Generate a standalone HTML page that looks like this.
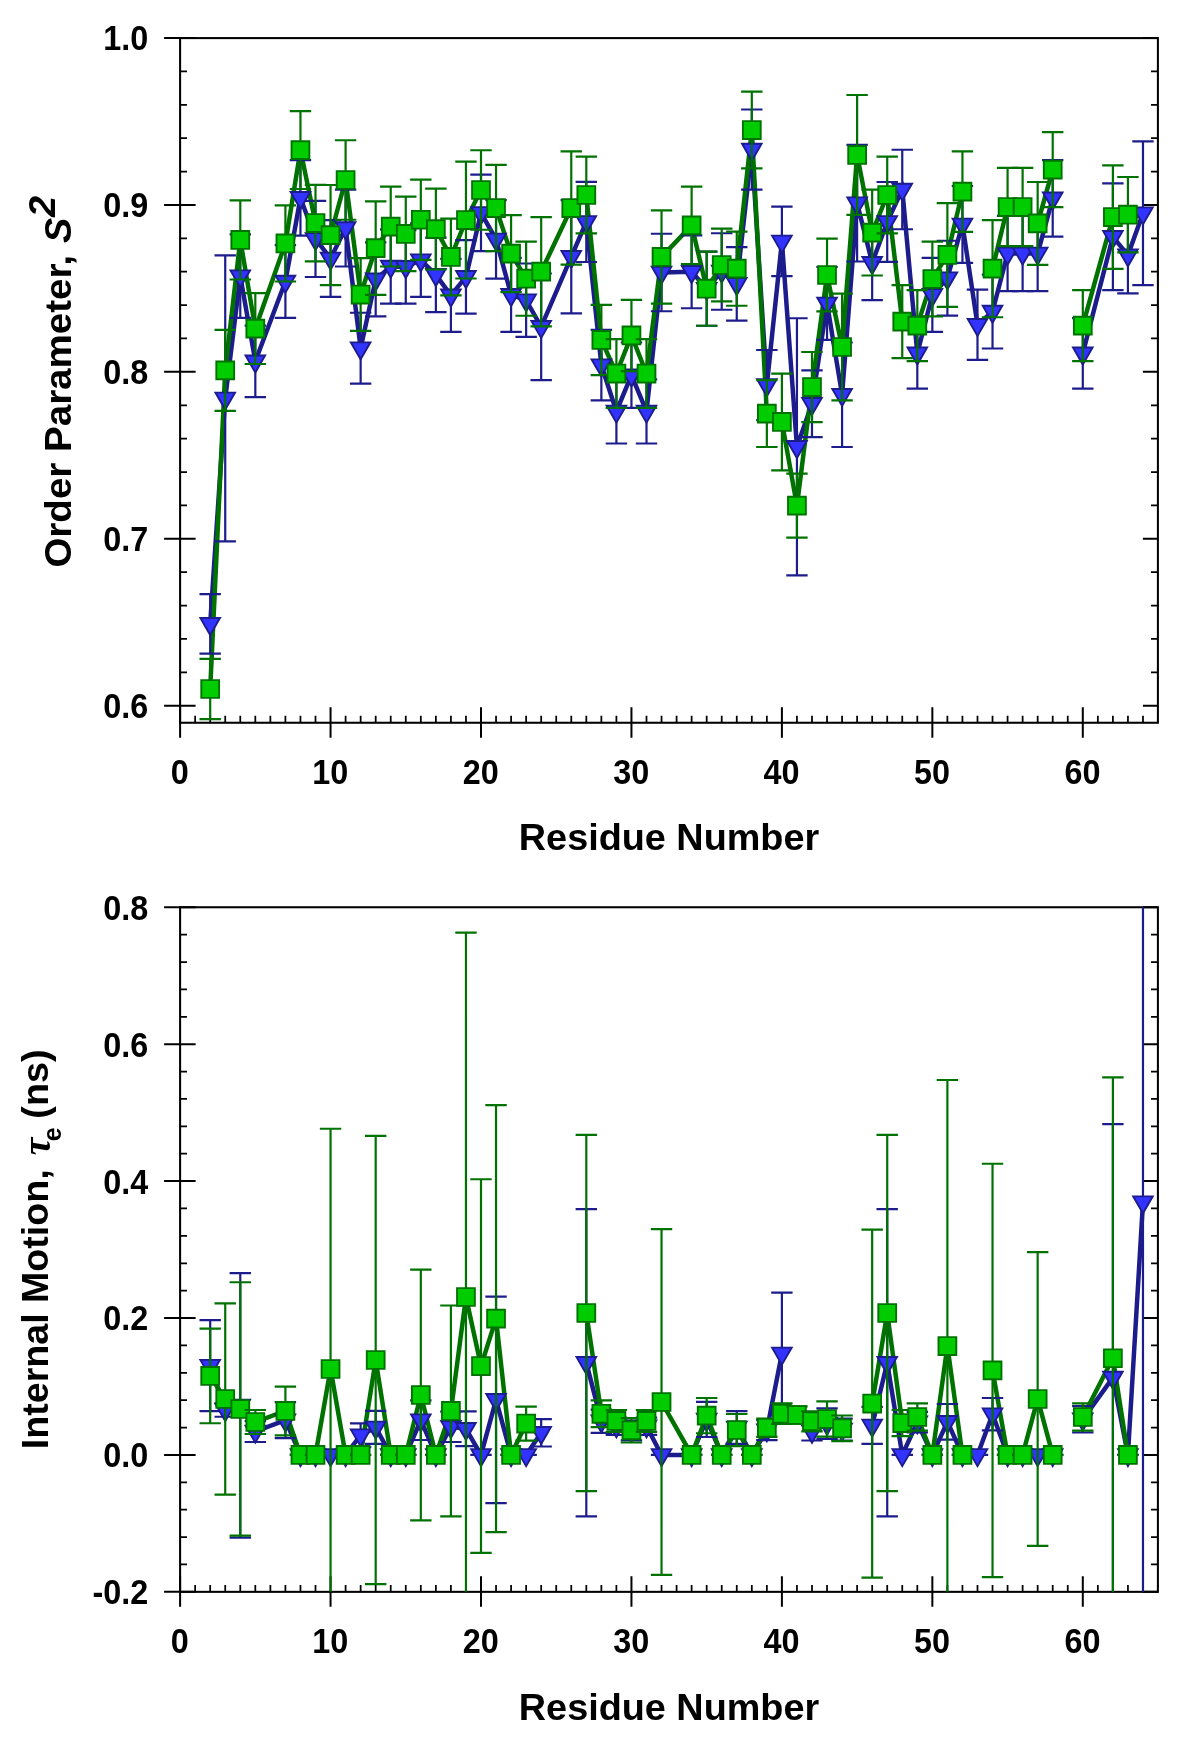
<!DOCTYPE html>
<html><head><meta charset="utf-8"><title>Order parameter and internal motion</title>
<style>
html,body{margin:0;padding:0;background:#fff;}
body{width:1200px;height:1760px;overflow:hidden;}
svg{display:block;will-change:transform;}
text{font-family:"Liberation Sans",sans-serif;font-weight:bold;fill:#000;}
.tk{font-size:34.6px;}
.ti{font-size:37.8px;}
.it{font-style:italic;}
.sf{font-family:"Liberation Serif",serif;}
</style></head><body>
<svg width="1200" height="1760" viewBox="0 0 1200 1760">
<defs>
<clipPath id="ct"><rect x="180.1" y="38.1" width="977.8" height="684.65"/></clipPath>
<clipPath id="cb"><rect x="180.1" y="907.25" width="977.8" height="684.6"/></clipPath>
</defs>
<rect width="1200" height="1760" fill="#fff"/>
<!-- top panel -->
<rect x="180.1" y="38.1" width="977.8" height="684.65" fill="none" stroke="#000" stroke-width="2.05"/>
<path d="M164.1 705.65H195.6M1142.9 705.65H1157.9M164.1 538.76H195.6M1142.9 538.76H1157.9M164.1 371.87H195.6M1142.9 371.87H1157.9M164.1 204.98H195.6M1142.9 204.98H1157.9M164.1 38.09H195.6M1142.9 38.09H1157.9M180.1 707.25V737.75M330.55 707.25V737.75M481 707.25V737.75M631.45 707.25V737.75M781.9 707.25V737.75M932.35 707.25V737.75M1082.8 707.25V737.75" stroke="#000" stroke-width="2" fill="none"/>
<path d="M180.1 672.27H187M1151 672.27H1157.9M180.1 638.89H187M1151 638.89H1157.9M180.1 605.52H187M1151 605.52H1157.9M180.1 572.14H187M1151 572.14H1157.9M180.1 505.38H187M1151 505.38H1157.9M180.1 472H187M1151 472H1157.9M180.1 438.63H187M1151 438.63H1157.9M180.1 405.25H187M1151 405.25H1157.9M180.1 338.49H187M1151 338.49H1157.9M180.1 305.11H187M1151 305.11H1157.9M180.1 271.74H187M1151 271.74H1157.9M180.1 238.36H187M1151 238.36H1157.9M180.1 171.6H187M1151 171.6H1157.9M180.1 138.22H187M1151 138.22H1157.9M180.1 104.85H187M1151 104.85H1157.9M180.1 71.47H187M1151 71.47H1157.9M195.14 715.85V722.75M210.19 715.85V722.75M225.23 715.85V722.75M240.28 715.85V722.75M255.32 715.85V722.75M270.37 715.85V722.75M285.41 715.85V722.75M300.46 715.85V722.75M315.5 715.85V722.75M345.6 715.85V722.75M360.64 715.85V722.75M375.69 715.85V722.75M390.73 715.85V722.75M405.77 715.85V722.75M420.82 715.85V722.75M435.87 715.85V722.75M450.91 715.85V722.75M465.96 715.85V722.75M496.04 715.85V722.75M511.09 715.85V722.75M526.13 715.85V722.75M541.18 715.85V722.75M556.23 715.85V722.75M571.27 715.85V722.75M586.31 715.85V722.75M601.36 715.85V722.75M616.4 715.85V722.75M646.5 715.85V722.75M661.54 715.85V722.75M676.59 715.85V722.75M691.63 715.85V722.75M706.68 715.85V722.75M721.72 715.85V722.75M736.76 715.85V722.75M751.81 715.85V722.75M766.86 715.85V722.75M796.95 715.85V722.75M811.99 715.85V722.75M827.03 715.85V722.75M842.08 715.85V722.75M857.12 715.85V722.75M872.17 715.85V722.75M887.22 715.85V722.75M902.26 715.85V722.75M917.31 715.85V722.75M947.39 715.85V722.75M962.44 715.85V722.75M977.49 715.85V722.75M992.53 715.85V722.75M1007.58 715.85V722.75M1022.62 715.85V722.75M1037.66 715.85V722.75M1052.71 715.85V722.75M1067.75 715.85V722.75M1097.85 715.85V722.75M1112.89 715.85V722.75M1127.93 715.85V722.75M1142.98 715.85V722.75" stroke="#000" stroke-width="1.75" fill="none"/>
<text transform="translate(148.3,718.05) scale(0.935,1)" text-anchor="end" class="tk">0.6</text>
<text transform="translate(148.3,551.16) scale(0.935,1)" text-anchor="end" class="tk">0.7</text>
<text transform="translate(148.3,384.27) scale(0.935,1)" text-anchor="end" class="tk">0.8</text>
<text transform="translate(148.3,217.38) scale(0.935,1)" text-anchor="end" class="tk">0.9</text>
<text transform="translate(148.3,50.49) scale(0.935,1)" text-anchor="end" class="tk">1.0</text>
<text transform="translate(179.8,784.35) scale(0.935,1)" text-anchor="middle" class="tk">0</text>
<text transform="translate(330.25,784.35) scale(0.935,1)" text-anchor="middle" class="tk">10</text>
<text transform="translate(480.7,784.35) scale(0.935,1)" text-anchor="middle" class="tk">20</text>
<text transform="translate(631.15,784.35) scale(0.935,1)" text-anchor="middle" class="tk">30</text>
<text transform="translate(781.6,784.35) scale(0.935,1)" text-anchor="middle" class="tk">40</text>
<text transform="translate(932.05,784.35) scale(0.935,1)" text-anchor="middle" class="tk">50</text>
<text transform="translate(1082.5,784.35) scale(0.935,1)" text-anchor="middle" class="tk">60</text>
<g clip-path="url(#ct)" stroke="#1c1c8c" fill="none" stroke-width="4.5" stroke-linejoin="miter" stroke-miterlimit="4">
<polyline points="210.19,623.87 225.23,398.42 240.28,276.18 255.32,361.35 285.41,281.52 300.46,197.85 315.5,238.94 330.55,258.47 345.6,228.08 360.64,348.15 375.69,279.35 390.73,266.49 405.77,266.82 420.82,260.14 435.87,274.84 450.91,295.38 465.96,276.84 481,212.88 496.04,239.44 511.09,294.88 526.13,300.22 541.18,326.78 571.27,256.8 586.31,221.9 601.36,365.19 616.4,411.45 631.45,375.21 646.5,411.45 661.54,272.5 691.63,271.83 706.68,288.7 721.72,271.5 736.76,283.86 751.81,149.59 766.86,385.06 781.9,241.44 796.95,446.85 811.99,403.76 827.03,303.4 842.08,394.75 857.12,203.2 872.17,262.82 887.22,221.9 902.26,189.5 917.31,353.33 932.35,294.88 947.39,278.18 962.44,224.41 977.49,324.77 992.53,311.58 1007.58,253.46 1022.62,253.46 1037.66,253.46 1052.71,198.35"/>
<polyline points="1082.8,353.33 1112.89,236.76 1127.93,255.13 1142.98,213.22"/>
</g>
<g clip-path="url(#ct)" stroke="#007200" fill="none" stroke-width="4.5" stroke-linejoin="miter" stroke-miterlimit="4">
<polyline points="210.19,689 225.23,370.36 240.28,239.94 255.32,328.61 285.41,243.44 300.46,150.09 315.5,223.07 330.55,235.09 345.6,179.98 360.64,294.55 375.69,248.12 390.73,226.58 405.77,233.93 420.82,219.73 435.87,229.08 450.91,256.97 465.96,220.06 481,190 496.04,208.04 511.09,253.63 526.13,278.68 541.18,271.67 571.27,208.04 586.31,195.01 601.36,339.97 616.4,373.54 631.45,335.46 646.5,373.54 661.54,256.97 691.63,225.41 706.68,288.7 721.72,264.99 736.76,268.66 751.81,130.05 766.86,413.62 781.9,421.97 796.95,505.63 811.99,387.06 827.03,275.01 842.08,346.98 857.12,154.93 872.17,232.59 887.22,195.01 902.26,321.6 917.31,325.61 932.35,279.01 947.39,254.97 962.44,191.67"/>
<polyline points="992.53,268.66 1007.58,207.04 1022.62,207.04 1037.66,223.4 1052.71,169.63"/>
<polyline points="1082.8,325.61 1112.89,217.06 1127.93,214.72"/>
</g>
<g clip-path="url(#ct)" stroke="#1c1c8c">
<path d="M210.19 594.14V653.6M199.49 594.14H220.89M199.49 653.6H220.89" fill="none" stroke-width="2.2"/>
<path d="M200.39 618.06h19.6L210.19 635.04z" fill="#3333ff" stroke-width="1.9"/>
<path d="M225.23 255.47V541.37M214.53 255.47H235.93M214.53 541.37H235.93" fill="none" stroke-width="2.2"/>
<path d="M215.43 392.61h19.6L225.23 409.59z" fill="#3333ff" stroke-width="1.9"/>
<path d="M240.28 234.43V317.93M229.58 234.43H250.98M229.58 317.93H250.98" fill="none" stroke-width="2.2"/>
<path d="M230.48 270.37h19.6L240.28 287.34z" fill="#3333ff" stroke-width="1.9"/>
<path d="M255.32 325.61V397.08M244.62 325.61H266.02M244.62 397.08H266.02" fill="none" stroke-width="2.2"/>
<path d="M245.52 355.54h19.6L255.32 372.51z" fill="#3333ff" stroke-width="1.9"/>
<path d="M285.41 245.11V317.93M274.71 245.11H296.11M274.71 317.93H296.11" fill="none" stroke-width="2.2"/>
<path d="M275.61 275.71h19.6L285.41 292.69z" fill="#3333ff" stroke-width="1.9"/>
<path d="M300.46 160.11V235.59M289.76 160.11H311.16M289.76 235.59H311.16" fill="none" stroke-width="2.2"/>
<path d="M290.66 192.05h19.6L300.46 209.02z" fill="#3333ff" stroke-width="1.9"/>
<path d="M315.5 200.86V277.01M304.81 200.86H326.2M304.81 277.01H326.2" fill="none" stroke-width="2.2"/>
<path d="M305.7 233.13h19.6L315.5 250.1z" fill="#3333ff" stroke-width="1.9"/>
<path d="M330.55 220.06V296.88M319.85 220.06H341.25M319.85 296.88H341.25" fill="none" stroke-width="2.2"/>
<path d="M320.75 252.67h19.6L330.55 269.64z" fill="#3333ff" stroke-width="1.9"/>
<path d="M345.6 189.67V266.49M334.9 189.67H356.3M334.9 266.49H356.3" fill="none" stroke-width="2.2"/>
<path d="M335.8 222.27h19.6L345.6 239.25z" fill="#3333ff" stroke-width="1.9"/>
<path d="M360.64 312.75V383.56M349.94 312.75H371.34M349.94 383.56H371.34" fill="none" stroke-width="2.2"/>
<path d="M350.84 342.35h19.6L360.64 359.32z" fill="#3333ff" stroke-width="1.9"/>
<path d="M375.69 242.28V316.42M364.99 242.28H386.38M364.99 316.42H386.38" fill="none" stroke-width="2.2"/>
<path d="M365.88 273.54h19.6L375.69 290.51z" fill="#3333ff" stroke-width="1.9"/>
<path d="M390.73 229.42V303.56M380.03 229.42H401.43M380.03 303.56H401.43" fill="none" stroke-width="2.2"/>
<path d="M380.93 260.68h19.6L390.73 277.66z" fill="#3333ff" stroke-width="1.9"/>
<path d="M405.77 230.08V303.56M395.07 230.08H416.47M395.07 303.56H416.47" fill="none" stroke-width="2.2"/>
<path d="M395.97 261.02h19.6L405.77 277.99z" fill="#3333ff" stroke-width="1.9"/>
<path d="M420.82 223.4V296.88M410.12 223.4H431.52M410.12 296.88H431.52" fill="none" stroke-width="2.2"/>
<path d="M411.02 254.34h19.6L420.82 271.31z" fill="#3333ff" stroke-width="1.9"/>
<path d="M435.87 237.6V312.08M425.17 237.6H446.56M425.17 312.08H446.56" fill="none" stroke-width="2.2"/>
<path d="M426.06 269.03h19.6L435.87 286.01z" fill="#3333ff" stroke-width="1.9"/>
<path d="M450.91 258.81V331.95M440.21 258.81H461.61M440.21 331.95H461.61" fill="none" stroke-width="2.2"/>
<path d="M441.11 289.57h19.6L450.91 306.55z" fill="#3333ff" stroke-width="1.9"/>
<path d="M465.96 240.1V313.58M455.26 240.1H476.66M455.26 313.58H476.66" fill="none" stroke-width="2.2"/>
<path d="M456.16 271.04h19.6L465.96 288.01z" fill="#3333ff" stroke-width="1.9"/>
<path d="M481 174.64V251.13M470.3 174.64H491.7M470.3 251.13H491.7" fill="none" stroke-width="2.2"/>
<path d="M471.2 207.08h19.6L481 224.05z" fill="#3333ff" stroke-width="1.9"/>
<path d="M496.04 200.19V278.68M485.34 200.19H506.74M485.34 278.68H506.74" fill="none" stroke-width="2.2"/>
<path d="M486.24 233.63h19.6L496.04 250.6z" fill="#3333ff" stroke-width="1.9"/>
<path d="M511.09 257.81V331.95M500.39 257.81H521.79M500.39 331.95H521.79" fill="none" stroke-width="2.2"/>
<path d="M501.29 289.07h19.6L511.09 306.05z" fill="#3333ff" stroke-width="1.9"/>
<path d="M526.13 263.48V336.96M515.43 263.48H536.84M515.43 336.96H536.84" fill="none" stroke-width="2.2"/>
<path d="M516.34 294.42h19.6L526.13 311.39z" fill="#3333ff" stroke-width="1.9"/>
<path d="M541.18 273.5V380.05M530.48 273.5H551.88M530.48 380.05H551.88" fill="none" stroke-width="2.2"/>
<path d="M531.38 320.97h19.6L541.18 337.94z" fill="#3333ff" stroke-width="1.9"/>
<path d="M571.27 200.19V313.42M560.57 200.19H581.97M560.57 313.42H581.97" fill="none" stroke-width="2.2"/>
<path d="M561.47 251h19.6L571.27 267.97z" fill="#3333ff" stroke-width="1.9"/>
<path d="M586.31 181.82V261.98M575.61 181.82H597.01M575.61 261.98H597.01" fill="none" stroke-width="2.2"/>
<path d="M576.51 216.09h19.6L586.31 233.07z" fill="#3333ff" stroke-width="1.9"/>
<path d="M601.36 329.95V400.42M590.66 329.95H612.06M590.66 400.42H612.06" fill="none" stroke-width="2.2"/>
<path d="M591.56 359.38h19.6L601.36 376.35z" fill="#3333ff" stroke-width="1.9"/>
<path d="M616.4 379.38V443.51M605.7 379.38H627.11M605.7 443.51H627.11" fill="none" stroke-width="2.2"/>
<path d="M606.61 405.64h19.6L616.4 422.61z" fill="#3333ff" stroke-width="1.9"/>
<path d="M631.45 342.48V407.94M620.75 342.48H642.15M620.75 407.94H642.15" fill="none" stroke-width="2.2"/>
<path d="M621.65 369.4h19.6L631.45 386.37z" fill="#3333ff" stroke-width="1.9"/>
<path d="M646.5 379.38V443.51M635.79 379.38H657.2M635.79 443.51H657.2" fill="none" stroke-width="2.2"/>
<path d="M636.7 405.64h19.6L646.5 422.61z" fill="#3333ff" stroke-width="1.9"/>
<path d="M661.54 233.76V311.25M650.84 233.76H672.24M650.84 311.25H672.24" fill="none" stroke-width="2.2"/>
<path d="M651.74 266.69h19.6L661.54 283.67z" fill="#3333ff" stroke-width="1.9"/>
<path d="M691.63 235.43V308.24M680.93 235.43H702.33M680.93 308.24H702.33" fill="none" stroke-width="2.2"/>
<path d="M681.83 266.03h19.6L691.63 283z" fill="#3333ff" stroke-width="1.9"/>
<path d="M706.68 251.63V325.77M695.98 251.63H717.38M695.98 325.77H717.38" fill="none" stroke-width="2.2"/>
<path d="M696.88 282.89h19.6L706.68 299.87z" fill="#3333ff" stroke-width="1.9"/>
<path d="M721.72 233.26V309.74M711.02 233.26H732.42M711.02 309.74H732.42" fill="none" stroke-width="2.2"/>
<path d="M711.92 265.69h19.6L721.72 282.67z" fill="#3333ff" stroke-width="1.9"/>
<path d="M736.76 247.12V320.6M726.06 247.12H747.47M726.06 320.6H747.47" fill="none" stroke-width="2.2"/>
<path d="M726.97 278.05h19.6L736.76 295.02z" fill="#3333ff" stroke-width="1.9"/>
<path d="M751.81 109.51V189.67M741.11 109.51H762.51M741.11 189.67H762.51" fill="none" stroke-width="2.2"/>
<path d="M742.01 143.78h19.6L751.81 160.76z" fill="#3333ff" stroke-width="1.9"/>
<path d="M766.86 349.99V420.13M756.15 349.99H777.56M756.15 420.13H777.56" fill="none" stroke-width="2.2"/>
<path d="M757.06 379.25h19.6L766.86 396.23z" fill="#3333ff" stroke-width="1.9"/>
<path d="M781.9 206.7V276.18M771.2 206.7H792.6M771.2 276.18H792.6" fill="none" stroke-width="2.2"/>
<path d="M772.1 235.63h19.6L781.9 252.61z" fill="#3333ff" stroke-width="1.9"/>
<path d="M796.95 318.26V575.44M786.25 318.26H807.65M786.25 575.44H807.65" fill="none" stroke-width="2.2"/>
<path d="M787.15 441.04h19.6L796.95 458.02z" fill="#3333ff" stroke-width="1.9"/>
<path d="M811.99 370.36V437.16M801.29 370.36H822.69M801.29 437.16H822.69" fill="none" stroke-width="2.2"/>
<path d="M802.19 397.96h19.6L811.99 414.93z" fill="#3333ff" stroke-width="1.9"/>
<path d="M827.03 266.99V339.8M816.33 266.99H837.74M816.33 339.8H837.74" fill="none" stroke-width="2.2"/>
<path d="M817.24 297.59h19.6L827.03 314.56z" fill="#3333ff" stroke-width="1.9"/>
<path d="M842.08 342.48V447.02M831.38 342.48H852.78M831.38 447.02H852.78" fill="none" stroke-width="2.2"/>
<path d="M832.28 388.94h19.6L842.08 405.91z" fill="#3333ff" stroke-width="1.9"/>
<path d="M857.12 144.91V261.48M846.42 144.91H867.83M846.42 261.48H867.83" fill="none" stroke-width="2.2"/>
<path d="M847.33 197.39h19.6L857.12 214.36z" fill="#3333ff" stroke-width="1.9"/>
<path d="M872.17 225.58V300.06M861.47 225.58H882.87M861.47 300.06H882.87" fill="none" stroke-width="2.2"/>
<path d="M862.37 257.01h19.6L872.17 273.98z" fill="#3333ff" stroke-width="1.9"/>
<path d="M887.22 181.99V261.81M876.51 181.99H897.92M876.51 261.81H897.92" fill="none" stroke-width="2.2"/>
<path d="M877.42 216.09h19.6L887.22 233.07z" fill="#3333ff" stroke-width="1.9"/>
<path d="M902.26 149.76V229.25M891.56 149.76H912.96M891.56 229.25H912.96" fill="none" stroke-width="2.2"/>
<path d="M892.46 183.7h19.6L902.26 200.67z" fill="#3333ff" stroke-width="1.9"/>
<path d="M917.31 318.09V388.57M906.61 318.09H928.01M906.61 388.57H928.01" fill="none" stroke-width="2.2"/>
<path d="M907.51 347.52h19.6L917.31 364.5z" fill="#3333ff" stroke-width="1.9"/>
<path d="M932.35 257.81V331.95M921.65 257.81H943.05M921.65 331.95H943.05" fill="none" stroke-width="2.2"/>
<path d="M922.55 289.07h19.6L932.35 306.05z" fill="#3333ff" stroke-width="1.9"/>
<path d="M947.39 240.77V315.59M936.69 240.77H958.1M936.69 315.59H958.1" fill="none" stroke-width="2.2"/>
<path d="M937.6 272.37h19.6L947.39 289.35z" fill="#3333ff" stroke-width="1.9"/>
<path d="M962.44 186V262.82M951.74 186H973.14M951.74 262.82H973.14" fill="none" stroke-width="2.2"/>
<path d="M952.64 218.6h19.6L962.44 235.57z" fill="#3333ff" stroke-width="1.9"/>
<path d="M977.49 289.7V359.84M966.78 289.7H988.19M966.78 359.84H988.19" fill="none" stroke-width="2.2"/>
<path d="M967.69 318.97h19.6L977.49 335.94z" fill="#3333ff" stroke-width="1.9"/>
<path d="M992.53 274.67V348.49M981.83 274.67H1003.23M981.83 348.49H1003.23" fill="none" stroke-width="2.2"/>
<path d="M982.73 305.77h19.6L992.53 322.75z" fill="#3333ff" stroke-width="1.9"/>
<path d="M1007.58 215.89V291.04M996.88 215.89H1018.28M996.88 291.04H1018.28" fill="none" stroke-width="2.2"/>
<path d="M997.78 247.66h19.6L1007.58 264.63z" fill="#3333ff" stroke-width="1.9"/>
<path d="M1022.62 215.89V291.04M1011.92 215.89H1033.32M1011.92 291.04H1033.32" fill="none" stroke-width="2.2"/>
<path d="M1012.82 247.66h19.6L1022.62 264.63z" fill="#3333ff" stroke-width="1.9"/>
<path d="M1037.66 215.89V291.04M1026.96 215.89H1048.37M1026.96 291.04H1048.37" fill="none" stroke-width="2.2"/>
<path d="M1027.87 247.66h19.6L1037.66 264.63z" fill="#3333ff" stroke-width="1.9"/>
<path d="M1052.71 160.11V236.6M1042.01 160.11H1063.41M1042.01 236.6H1063.41" fill="none" stroke-width="2.2"/>
<path d="M1042.91 192.55h19.6L1052.71 209.52z" fill="#3333ff" stroke-width="1.9"/>
<path d="M1082.8 318.09V388.57M1072.1 318.09H1093.5M1072.1 388.57H1093.5" fill="none" stroke-width="2.2"/>
<path d="M1073 347.52h19.6L1082.8 364.5z" fill="#3333ff" stroke-width="1.9"/>
<path d="M1112.89 183.32V290.2M1102.19 183.32H1123.59M1102.19 290.2H1123.59" fill="none" stroke-width="2.2"/>
<path d="M1103.09 230.96h19.6L1112.89 247.93z" fill="#3333ff" stroke-width="1.9"/>
<path d="M1127.93 216.89V293.38M1117.23 216.89H1138.63M1117.23 293.38H1138.63" fill="none" stroke-width="2.2"/>
<path d="M1118.13 249.33h19.6L1127.93 266.3z" fill="#3333ff" stroke-width="1.9"/>
<path d="M1142.98 141.41V285.03M1132.28 141.41H1153.68M1132.28 285.03H1153.68" fill="none" stroke-width="2.2"/>
<path d="M1133.18 207.41h19.6L1142.98 224.38z" fill="#3333ff" stroke-width="1.9"/>
</g>
<g clip-path="url(#ct)" stroke="#007200">
<path d="M210.19 658.94V719.06M199.49 658.94H220.89M199.49 719.06H220.89" fill="none" stroke-width="2.2"/>
<path d="M201.29 680.1h17.8v17.8h-17.8z" fill="#00cc00" stroke-width="1.9"/>
<path d="M225.23 329.95V410.78M214.53 329.95H235.93M214.53 410.78H235.93" fill="none" stroke-width="2.2"/>
<path d="M216.33 361.46h17.8v17.8h-17.8z" fill="#00cc00" stroke-width="1.9"/>
<path d="M240.28 200.36V279.52M229.58 200.36H250.98M229.58 279.52H250.98" fill="none" stroke-width="2.2"/>
<path d="M231.38 231.04h17.8v17.8h-17.8z" fill="#00cc00" stroke-width="1.9"/>
<path d="M255.32 293.21V364.02M244.62 293.21H266.02M244.62 364.02H266.02" fill="none" stroke-width="2.2"/>
<path d="M246.42 319.71h17.8v17.8h-17.8z" fill="#00cc00" stroke-width="1.9"/>
<path d="M285.41 205.37V281.52M274.71 205.37H296.11M274.71 281.52H296.11" fill="none" stroke-width="2.2"/>
<path d="M276.51 234.54h17.8v17.8h-17.8z" fill="#00cc00" stroke-width="1.9"/>
<path d="M300.46 111.18V189M289.76 111.18H311.16M289.76 189H311.16" fill="none" stroke-width="2.2"/>
<path d="M291.56 141.19h17.8v17.8h-17.8z" fill="#00cc00" stroke-width="1.9"/>
<path d="M315.5 184.83V261.31M304.81 184.83H326.2M304.81 261.31H326.2" fill="none" stroke-width="2.2"/>
<path d="M306.61 214.17h17.8v17.8h-17.8z" fill="#00cc00" stroke-width="1.9"/>
<path d="M330.55 184.99V285.19M319.85 184.99H341.25M319.85 285.19H341.25" fill="none" stroke-width="2.2"/>
<path d="M321.65 226.19h17.8v17.8h-17.8z" fill="#00cc00" stroke-width="1.9"/>
<path d="M345.6 140.24V219.73M334.9 140.24H356.3M334.9 219.73H356.3" fill="none" stroke-width="2.2"/>
<path d="M336.7 171.08h17.8v17.8h-17.8z" fill="#00cc00" stroke-width="1.9"/>
<path d="M360.64 258.14V330.95M349.94 258.14H371.34M349.94 330.95H371.34" fill="none" stroke-width="2.2"/>
<path d="M351.74 285.65h17.8v17.8h-17.8z" fill="#00cc00" stroke-width="1.9"/>
<path d="M375.69 201.36V294.88M364.99 201.36H386.38M364.99 294.88H386.38" fill="none" stroke-width="2.2"/>
<path d="M366.79 239.22h17.8v17.8h-17.8z" fill="#00cc00" stroke-width="1.9"/>
<path d="M390.73 186.66V266.49M380.03 186.66H401.43M380.03 266.49H401.43" fill="none" stroke-width="2.2"/>
<path d="M381.83 217.68h17.8v17.8h-17.8z" fill="#00cc00" stroke-width="1.9"/>
<path d="M405.77 196.68V271.17M395.07 196.68H416.47M395.07 271.17H416.47" fill="none" stroke-width="2.2"/>
<path d="M396.88 225.03h17.8v17.8h-17.8z" fill="#00cc00" stroke-width="1.9"/>
<path d="M420.82 179.65V259.81M410.12 179.65H431.52M410.12 259.81H431.52" fill="none" stroke-width="2.2"/>
<path d="M411.92 210.83h17.8v17.8h-17.8z" fill="#00cc00" stroke-width="1.9"/>
<path d="M435.87 188.67V269.5M425.17 188.67H446.56M425.17 269.5H446.56" fill="none" stroke-width="2.2"/>
<path d="M426.97 220.18h17.8v17.8h-17.8z" fill="#00cc00" stroke-width="1.9"/>
<path d="M450.91 218.56V295.38M440.21 218.56H461.61M440.21 295.38H461.61" fill="none" stroke-width="2.2"/>
<path d="M442.01 248.07h17.8v17.8h-17.8z" fill="#00cc00" stroke-width="1.9"/>
<path d="M465.96 161.61V278.51M455.26 161.61H476.66M455.26 278.51H476.66" fill="none" stroke-width="2.2"/>
<path d="M457.06 211.16h17.8v17.8h-17.8z" fill="#00cc00" stroke-width="1.9"/>
<path d="M481 150.26V229.75M470.3 150.26H491.7M470.3 229.75H491.7" fill="none" stroke-width="2.2"/>
<path d="M472.1 181.1h17.8v17.8h-17.8z" fill="#00cc00" stroke-width="1.9"/>
<path d="M496.04 164.95V251.13M485.34 164.95H506.74M485.34 251.13H506.74" fill="none" stroke-width="2.2"/>
<path d="M487.14 199.14h17.8v17.8h-17.8z" fill="#00cc00" stroke-width="1.9"/>
<path d="M511.09 215.05V292.21M500.39 215.05H521.79M500.39 292.21H521.79" fill="none" stroke-width="2.2"/>
<path d="M502.19 244.73h17.8v17.8h-17.8z" fill="#00cc00" stroke-width="1.9"/>
<path d="M526.13 241.61V315.75M515.43 241.61H536.84M515.43 315.75H536.84" fill="none" stroke-width="2.2"/>
<path d="M517.24 269.78h17.8v17.8h-17.8z" fill="#00cc00" stroke-width="1.9"/>
<path d="M541.18 217.06V326.28M530.48 217.06H551.88M530.48 326.28H551.88" fill="none" stroke-width="2.2"/>
<path d="M532.28 262.77h17.8v17.8h-17.8z" fill="#00cc00" stroke-width="1.9"/>
<path d="M571.27 151.43V264.65M560.57 151.43H581.97M560.57 264.65H581.97" fill="none" stroke-width="2.2"/>
<path d="M562.37 199.14h17.8v17.8h-17.8z" fill="#00cc00" stroke-width="1.9"/>
<path d="M586.31 156.6V233.42M575.61 156.6H597.01M575.61 233.42H597.01" fill="none" stroke-width="2.2"/>
<path d="M577.41 186.11h17.8v17.8h-17.8z" fill="#00cc00" stroke-width="1.9"/>
<path d="M601.36 304.9V375.04M590.66 304.9H612.06M590.66 375.04H612.06" fill="none" stroke-width="2.2"/>
<path d="M592.46 331.07h17.8v17.8h-17.8z" fill="#00cc00" stroke-width="1.9"/>
<path d="M616.4 339.13V407.94M605.7 339.13H627.11M605.7 407.94H627.11" fill="none" stroke-width="2.2"/>
<path d="M607.5 364.64h17.8v17.8h-17.8z" fill="#00cc00" stroke-width="1.9"/>
<path d="M631.45 299.89V371.03M620.75 299.89H642.15M620.75 371.03H642.15" fill="none" stroke-width="2.2"/>
<path d="M622.55 326.56h17.8v17.8h-17.8z" fill="#00cc00" stroke-width="1.9"/>
<path d="M646.5 339.13V407.94M635.79 339.13H657.2M635.79 407.94H657.2" fill="none" stroke-width="2.2"/>
<path d="M637.6 364.64h17.8v17.8h-17.8z" fill="#00cc00" stroke-width="1.9"/>
<path d="M661.54 210.38V303.56M650.84 210.38H672.24M650.84 303.56H672.24" fill="none" stroke-width="2.2"/>
<path d="M652.64 248.07h17.8v17.8h-17.8z" fill="#00cc00" stroke-width="1.9"/>
<path d="M691.63 186.66V264.15M680.93 186.66H702.33M680.93 264.15H702.33" fill="none" stroke-width="2.2"/>
<path d="M682.73 216.51h17.8v17.8h-17.8z" fill="#00cc00" stroke-width="1.9"/>
<path d="M706.68 251.63V325.77M695.98 251.63H717.38M695.98 325.77H717.38" fill="none" stroke-width="2.2"/>
<path d="M697.78 279.8h17.8v17.8h-17.8z" fill="#00cc00" stroke-width="1.9"/>
<path d="M721.72 228.58V301.39M711.02 228.58H732.42M711.02 301.39H732.42" fill="none" stroke-width="2.2"/>
<path d="M712.82 256.09h17.8v17.8h-17.8z" fill="#00cc00" stroke-width="1.9"/>
<path d="M736.76 231.59V305.73M726.06 231.59H747.47M726.06 305.73H747.47" fill="none" stroke-width="2.2"/>
<path d="M727.87 259.76h17.8v17.8h-17.8z" fill="#00cc00" stroke-width="1.9"/>
<path d="M751.81 91.64V168.46M741.11 91.64H762.51M741.11 168.46H762.51" fill="none" stroke-width="2.2"/>
<path d="M742.91 121.15h17.8v17.8h-17.8z" fill="#00cc00" stroke-width="1.9"/>
<path d="M766.86 380.22V447.02M756.15 380.22H777.56M756.15 447.02H777.56" fill="none" stroke-width="2.2"/>
<path d="M757.96 404.72h17.8v17.8h-17.8z" fill="#00cc00" stroke-width="1.9"/>
<path d="M781.9 373.54V470.4M771.2 373.54H792.6M771.2 470.4H792.6" fill="none" stroke-width="2.2"/>
<path d="M773 413.07h17.8v17.8h-17.8z" fill="#00cc00" stroke-width="1.9"/>
<path d="M796.95 473.57V537.7M786.25 473.57H807.65M786.25 537.7H807.65" fill="none" stroke-width="2.2"/>
<path d="M788.05 496.73h17.8v17.8h-17.8z" fill="#00cc00" stroke-width="1.9"/>
<path d="M811.99 351.99V422.13M801.29 351.99H822.69M801.29 422.13H822.69" fill="none" stroke-width="2.2"/>
<path d="M803.09 378.16h17.8v17.8h-17.8z" fill="#00cc00" stroke-width="1.9"/>
<path d="M827.03 238.6V311.41M816.33 238.6H837.74M816.33 311.41H837.74" fill="none" stroke-width="2.2"/>
<path d="M818.13 266.11h17.8v17.8h-17.8z" fill="#00cc00" stroke-width="1.9"/>
<path d="M842.08 293.54V400.42M831.38 293.54H852.78M831.38 400.42H852.78" fill="none" stroke-width="2.2"/>
<path d="M833.18 338.08h17.8v17.8h-17.8z" fill="#00cc00" stroke-width="1.9"/>
<path d="M857.12 94.98V214.89M846.42 94.98H867.83M846.42 214.89H867.83" fill="none" stroke-width="2.2"/>
<path d="M848.23 146.03h17.8v17.8h-17.8z" fill="#00cc00" stroke-width="1.9"/>
<path d="M872.17 189.67V275.51M861.47 189.67H882.87M861.47 275.51H882.87" fill="none" stroke-width="2.2"/>
<path d="M863.27 223.69h17.8v17.8h-17.8z" fill="#00cc00" stroke-width="1.9"/>
<path d="M887.22 156.6V233.42M876.51 156.6H897.92M876.51 233.42H897.92" fill="none" stroke-width="2.2"/>
<path d="M878.32 186.11h17.8v17.8h-17.8z" fill="#00cc00" stroke-width="1.9"/>
<path d="M902.26 285.03V358.17M891.56 285.03H912.96M891.56 358.17H912.96" fill="none" stroke-width="2.2"/>
<path d="M893.36 312.7h17.8v17.8h-17.8z" fill="#00cc00" stroke-width="1.9"/>
<path d="M917.31 290.04V361.18M906.61 290.04H928.01M906.61 361.18H928.01" fill="none" stroke-width="2.2"/>
<path d="M908.41 316.71h17.8v17.8h-17.8z" fill="#00cc00" stroke-width="1.9"/>
<path d="M932.35 241.61V316.42M921.65 241.61H943.05M921.65 316.42H943.05" fill="none" stroke-width="2.2"/>
<path d="M923.45 270.11h17.8v17.8h-17.8z" fill="#00cc00" stroke-width="1.9"/>
<path d="M947.39 203.03V306.9M936.69 203.03H958.1M936.69 306.9H958.1" fill="none" stroke-width="2.2"/>
<path d="M938.5 246.07h17.8v17.8h-17.8z" fill="#00cc00" stroke-width="1.9"/>
<path d="M962.44 151.43V231.92M951.74 151.43H973.14M951.74 231.92H973.14" fill="none" stroke-width="2.2"/>
<path d="M953.54 182.77h17.8v17.8h-17.8z" fill="#00cc00" stroke-width="1.9"/>
<path d="M992.53 220.06V317.26M981.83 220.06H1003.23M981.83 317.26H1003.23" fill="none" stroke-width="2.2"/>
<path d="M983.63 259.76h17.8v17.8h-17.8z" fill="#00cc00" stroke-width="1.9"/>
<path d="M1007.58 167.96V246.12M996.88 167.96H1018.28M996.88 246.12H1018.28" fill="none" stroke-width="2.2"/>
<path d="M998.68 198.14h17.8v17.8h-17.8z" fill="#00cc00" stroke-width="1.9"/>
<path d="M1022.62 167.96V246.12M1011.92 167.96H1033.32M1011.92 246.12H1033.32" fill="none" stroke-width="2.2"/>
<path d="M1013.72 198.14h17.8v17.8h-17.8z" fill="#00cc00" stroke-width="1.9"/>
<path d="M1037.66 181.99V264.82M1026.96 181.99H1048.37M1026.96 264.82H1048.37" fill="none" stroke-width="2.2"/>
<path d="M1028.76 214.5h17.8v17.8h-17.8z" fill="#00cc00" stroke-width="1.9"/>
<path d="M1052.71 132.05V207.2M1042.01 132.05H1063.41M1042.01 207.2H1063.41" fill="none" stroke-width="2.2"/>
<path d="M1043.81 160.73h17.8v17.8h-17.8z" fill="#00cc00" stroke-width="1.9"/>
<path d="M1082.8 290.04V361.18M1072.1 290.04H1093.5M1072.1 361.18H1093.5" fill="none" stroke-width="2.2"/>
<path d="M1073.9 316.71h17.8v17.8h-17.8z" fill="#00cc00" stroke-width="1.9"/>
<path d="M1112.89 165.29V268.83M1102.19 165.29H1123.59M1102.19 268.83H1123.59" fill="none" stroke-width="2.2"/>
<path d="M1103.99 208.16h17.8v17.8h-17.8z" fill="#00cc00" stroke-width="1.9"/>
<path d="M1127.93 176.98V252.46M1117.23 176.98H1138.63M1117.23 252.46H1138.63" fill="none" stroke-width="2.2"/>
<path d="M1119.03 205.82h17.8v17.8h-17.8z" fill="#00cc00" stroke-width="1.9"/>
</g>
<text x="669.0" y="850.3" text-anchor="middle" class="ti">Residue Number</text>
<g transform="translate(70.6,567.6) rotate(-90)"><text class="ti" transform="scale(1.0195,1)">Order Parameter,</text><text x="324.5" class="ti it">S</text><text x="350.5" y="-15.5" class="ti it">2</text></g>
<!-- bottom panel -->
<rect x="180.1" y="907.25" width="977.8" height="684.6" fill="none" stroke="#000" stroke-width="2.05"/>
<path d="M164.1 1591.87H195.6M1142.9 1591.87H1157.9M164.1 1454.95H195.6M1142.9 1454.95H1157.9M164.1 1318.03H195.6M1142.9 1318.03H1157.9M164.1 1181.11H195.6M1142.9 1181.11H1157.9M164.1 1044.19H195.6M1142.9 1044.19H1157.9M164.1 907.27H195.6M1142.9 907.27H1157.9M180.1 1576.35V1606.85M330.55 1576.35V1606.85M481 1576.35V1606.85M631.45 1576.35V1606.85M781.9 1576.35V1606.85M932.35 1576.35V1606.85M1082.8 1576.35V1606.85" stroke="#000" stroke-width="2" fill="none"/>
<path d="M180.1 1564.49H187M1151 1564.49H1157.9M180.1 1537.1H187M1151 1537.1H1157.9M180.1 1509.72H187M1151 1509.72H1157.9M180.1 1482.33H187M1151 1482.33H1157.9M180.1 1427.57H187M1151 1427.57H1157.9M180.1 1400.18H187M1151 1400.18H1157.9M180.1 1372.8H187M1151 1372.8H1157.9M180.1 1345.41H187M1151 1345.41H1157.9M180.1 1290.65H187M1151 1290.65H1157.9M180.1 1263.26H187M1151 1263.26H1157.9M180.1 1235.88H187M1151 1235.88H1157.9M180.1 1208.49H187M1151 1208.49H1157.9M180.1 1153.73H187M1151 1153.73H1157.9M180.1 1126.34H187M1151 1126.34H1157.9M180.1 1098.96H187M1151 1098.96H1157.9M180.1 1071.57H187M1151 1071.57H1157.9M180.1 1016.81H187M1151 1016.81H1157.9M180.1 989.42H187M1151 989.42H1157.9M180.1 962.04H187M1151 962.04H1157.9M180.1 934.65H187M1151 934.65H1157.9M195.14 1584.95V1591.85M210.19 1584.95V1591.85M225.23 1584.95V1591.85M240.28 1584.95V1591.85M255.32 1584.95V1591.85M270.37 1584.95V1591.85M285.41 1584.95V1591.85M300.46 1584.95V1591.85M315.5 1584.95V1591.85M345.6 1584.95V1591.85M360.64 1584.95V1591.85M375.69 1584.95V1591.85M390.73 1584.95V1591.85M405.77 1584.95V1591.85M420.82 1584.95V1591.85M435.87 1584.95V1591.85M450.91 1584.95V1591.85M465.96 1584.95V1591.85M496.04 1584.95V1591.85M511.09 1584.95V1591.85M526.13 1584.95V1591.85M541.18 1584.95V1591.85M556.23 1584.95V1591.85M571.27 1584.95V1591.85M586.31 1584.95V1591.85M601.36 1584.95V1591.85M616.4 1584.95V1591.85M646.5 1584.95V1591.85M661.54 1584.95V1591.85M676.59 1584.95V1591.85M691.63 1584.95V1591.85M706.68 1584.95V1591.85M721.72 1584.95V1591.85M736.76 1584.95V1591.85M751.81 1584.95V1591.85M766.86 1584.95V1591.85M796.95 1584.95V1591.85M811.99 1584.95V1591.85M827.03 1584.95V1591.85M842.08 1584.95V1591.85M857.12 1584.95V1591.85M872.17 1584.95V1591.85M887.22 1584.95V1591.85M902.26 1584.95V1591.85M917.31 1584.95V1591.85M947.39 1584.95V1591.85M962.44 1584.95V1591.85M977.49 1584.95V1591.85M992.53 1584.95V1591.85M1007.58 1584.95V1591.85M1022.62 1584.95V1591.85M1037.66 1584.95V1591.85M1052.71 1584.95V1591.85M1067.75 1584.95V1591.85M1097.85 1584.95V1591.85M1112.89 1584.95V1591.85M1127.93 1584.95V1591.85M1142.98 1584.95V1591.85" stroke="#000" stroke-width="1.75" fill="none"/>
<text transform="translate(148.3,1604.27) scale(0.935,1)" text-anchor="end" class="tk">-0.2</text>
<text transform="translate(148.3,1467.35) scale(0.935,1)" text-anchor="end" class="tk">0.0</text>
<text transform="translate(148.3,1330.43) scale(0.935,1)" text-anchor="end" class="tk">0.2</text>
<text transform="translate(148.3,1193.51) scale(0.935,1)" text-anchor="end" class="tk">0.4</text>
<text transform="translate(148.3,1056.59) scale(0.935,1)" text-anchor="end" class="tk">0.6</text>
<text transform="translate(148.3,919.67) scale(0.935,1)" text-anchor="end" class="tk">0.8</text>
<text transform="translate(179.8,1653.45) scale(0.935,1)" text-anchor="middle" class="tk">0</text>
<text transform="translate(330.25,1653.45) scale(0.935,1)" text-anchor="middle" class="tk">10</text>
<text transform="translate(480.7,1653.45) scale(0.935,1)" text-anchor="middle" class="tk">20</text>
<text transform="translate(631.15,1653.45) scale(0.935,1)" text-anchor="middle" class="tk">30</text>
<text transform="translate(781.6,1653.45) scale(0.935,1)" text-anchor="middle" class="tk">40</text>
<text transform="translate(932.05,1653.45) scale(0.935,1)" text-anchor="middle" class="tk">50</text>
<text transform="translate(1082.5,1653.45) scale(0.935,1)" text-anchor="middle" class="tk">60</text>
<g clip-path="url(#cb)" stroke="#1c1c8c" fill="none" stroke-width="4.5" stroke-linejoin="miter" stroke-miterlimit="4">
<polyline points="210.19,1365.69 225.23,1409.88 240.28,1405.42 255.32,1431.52 285.41,1420.15 300.46,1454.95 315.5,1454.95 330.55,1454.95 345.6,1454.95 360.64,1435.22 375.69,1427.41 390.73,1454.95 405.77,1454.95 420.82,1420.15 435.87,1454.95 450.91,1426.79 465.96,1428.78 481,1454.95 496.04,1399.81 511.09,1454.95 526.13,1454.95 541.18,1432.82"/>
<polyline points="586.31,1362.82 601.36,1421.18 616.4,1426.18 631.45,1430.43 646.5,1426.18 661.54,1454.95 691.63,1454.95 706.68,1419.47 721.72,1454.95 736.76,1427.48 751.81,1454.95 766.86,1430.15 781.9,1353.43"/>
<polyline points="811.99,1431.59 827.03,1423.58 842.08,1429.53"/>
<polyline points="872.17,1425.42 887.22,1362.82 902.26,1454.95 917.31,1422.21 932.35,1454.95 947.39,1421.79 962.44,1454.95 977.49,1454.95 992.53,1414.19 1007.58,1454.95 1022.62,1454.95 1037.66,1454.95 1052.71,1454.95"/>
<polyline points="1082.8,1419.33 1112.89,1377.61 1127.93,1454.95 1142.98,1202.18"/>
</g>
<g clip-path="url(#cb)" stroke="#007200" fill="none" stroke-width="4.5" stroke-linejoin="miter" stroke-miterlimit="4">
<polyline points="210.19,1375.97 225.23,1398.98 240.28,1408.98 255.32,1422 285.41,1410.97 300.46,1454.95 315.5,1454.95 330.55,1368.98 345.6,1454.95 360.64,1454.95 375.69,1360.01 390.73,1454.95 405.77,1454.95 420.82,1395.01 435.87,1454.95 450.91,1410.97 465.96,1296.99 481,1366.04 496.04,1318.63 511.09,1454.95 526.13,1423.58"/>
<polyline points="586.31,1313.02 601.36,1413.78 616.4,1420.97 631.45,1430.29 646.5,1420.97 661.54,1402 691.63,1454.95 706.68,1415.63 721.72,1454.95 736.76,1430.01 751.81,1454.95 766.86,1427.82 781.9,1413.71 796.95,1415.01 811.99,1421.31 827.03,1418.99 842.08,1428.3"/>
<polyline points="872.17,1403.57 887.22,1313.02 902.26,1423.03 917.31,1417 932.35,1454.95 947.39,1346.03 962.44,1454.95"/>
<polyline points="992.53,1370.42 1007.58,1454.95 1022.62,1454.95 1037.66,1398.98 1052.71,1454.95"/>
<polyline points="1082.8,1417 1112.89,1358.23 1127.93,1454.95"/>
</g>
<g clip-path="url(#cb)" stroke="#1c1c8c">
<path d="M210.19 1320.21V1411.18M199.49 1320.21H220.89M199.49 1411.18H220.89" fill="none" stroke-width="2.2"/>
<path d="M200.39 1359.88h19.6L210.19 1376.86z" fill="#3333ff" stroke-width="1.9"/>
<path d="M225.23 1403.03V1416.73M214.53 1403.03H235.93M214.53 1416.73H235.93" fill="none" stroke-width="2.2"/>
<path d="M215.43 1404.07h19.6L225.23 1421.04z" fill="#3333ff" stroke-width="1.9"/>
<path d="M240.28 1273.22V1537.63M229.58 1273.22H250.98M229.58 1537.63H250.98" fill="none" stroke-width="2.2"/>
<path d="M230.48 1399.61h19.6L240.28 1416.59z" fill="#3333ff" stroke-width="1.9"/>
<path d="M255.32 1421.04V1442M244.62 1421.04H266.02M244.62 1442H266.02" fill="none" stroke-width="2.2"/>
<path d="M245.52 1425.71h19.6L255.32 1442.69z" fill="#3333ff" stroke-width="1.9"/>
<path d="M285.41 1402.13V1438.17M274.71 1402.13H296.11M274.71 1438.17H296.11" fill="none" stroke-width="2.2"/>
<path d="M275.61 1414.34h19.6L285.41 1431.32z" fill="#3333ff" stroke-width="1.9"/>
<path d="M300.46 1454.95V1454.95M289.76 1454.95H311.16M289.76 1454.95H311.16" fill="none" stroke-width="2.2"/>
<path d="M290.66 1449.14h19.6L300.46 1466.11z" fill="#3333ff" stroke-width="1.9"/>
<path d="M315.5 1454.95V1454.95M304.81 1454.95H326.2M304.81 1454.95H326.2" fill="none" stroke-width="2.2"/>
<path d="M305.7 1449.14h19.6L315.5 1466.11z" fill="#3333ff" stroke-width="1.9"/>
<path d="M330.55 1454.95V1454.95M319.85 1454.95H341.25M319.85 1454.95H341.25" fill="none" stroke-width="2.2"/>
<path d="M320.75 1449.14h19.6L330.55 1466.11z" fill="#3333ff" stroke-width="1.9"/>
<path d="M345.6 1454.95V1454.95M334.9 1454.95H356.3M334.9 1454.95H356.3" fill="none" stroke-width="2.2"/>
<path d="M335.8 1449.14h19.6L345.6 1466.11z" fill="#3333ff" stroke-width="1.9"/>
<path d="M360.64 1423.37V1447.07M349.94 1423.37H371.34M349.94 1447.07H371.34" fill="none" stroke-width="2.2"/>
<path d="M350.84 1429.41h19.6L360.64 1446.39z" fill="#3333ff" stroke-width="1.9"/>
<path d="M375.69 1410.97V1443.85M364.99 1410.97H386.38M364.99 1443.85H386.38" fill="none" stroke-width="2.2"/>
<path d="M365.88 1421.6h19.6L375.69 1438.58z" fill="#3333ff" stroke-width="1.9"/>
<path d="M390.73 1454.95V1454.95M380.03 1454.95H401.43M380.03 1454.95H401.43" fill="none" stroke-width="2.2"/>
<path d="M380.93 1449.14h19.6L390.73 1466.11z" fill="#3333ff" stroke-width="1.9"/>
<path d="M405.77 1454.95V1454.95M395.07 1454.95H416.47M395.07 1454.95H416.47" fill="none" stroke-width="2.2"/>
<path d="M395.97 1449.14h19.6L405.77 1466.11z" fill="#3333ff" stroke-width="1.9"/>
<path d="M420.82 1400.29V1440.02M410.12 1400.29H431.52M410.12 1440.02H431.52" fill="none" stroke-width="2.2"/>
<path d="M411.02 1414.34h19.6L420.82 1431.32z" fill="#3333ff" stroke-width="1.9"/>
<path d="M435.87 1454.95V1454.95M425.17 1454.95H446.56M425.17 1454.95H446.56" fill="none" stroke-width="2.2"/>
<path d="M426.06 1449.14h19.6L435.87 1466.11z" fill="#3333ff" stroke-width="1.9"/>
<path d="M450.91 1411.59V1442M440.21 1411.59H461.61M440.21 1442H461.61" fill="none" stroke-width="2.2"/>
<path d="M441.11 1420.99h19.6L450.91 1437.96z" fill="#3333ff" stroke-width="1.9"/>
<path d="M465.96 1411.38V1446.18M455.26 1411.38H476.66M455.26 1446.18H476.66" fill="none" stroke-width="2.2"/>
<path d="M456.16 1422.97h19.6L465.96 1439.95z" fill="#3333ff" stroke-width="1.9"/>
<path d="M481 1454.95V1454.95M470.3 1454.95H491.7M470.3 1454.95H491.7" fill="none" stroke-width="2.2"/>
<path d="M471.2 1449.14h19.6L481 1466.11z" fill="#3333ff" stroke-width="1.9"/>
<path d="M496.04 1296.58V1503.04M485.34 1296.58H506.74M485.34 1503.04H506.74" fill="none" stroke-width="2.2"/>
<path d="M486.24 1394h19.6L496.04 1410.97z" fill="#3333ff" stroke-width="1.9"/>
<path d="M511.09 1454.95V1454.95M500.39 1454.95H521.79M500.39 1454.95H521.79" fill="none" stroke-width="2.2"/>
<path d="M501.29 1449.14h19.6L511.09 1466.11z" fill="#3333ff" stroke-width="1.9"/>
<path d="M526.13 1454.95V1454.95M515.43 1454.95H536.84M515.43 1454.95H536.84" fill="none" stroke-width="2.2"/>
<path d="M516.34 1449.14h19.6L526.13 1466.11z" fill="#3333ff" stroke-width="1.9"/>
<path d="M541.18 1419.12V1446.52M530.48 1419.12H551.88M530.48 1446.52H551.88" fill="none" stroke-width="2.2"/>
<path d="M531.38 1427.01h19.6L541.18 1443.99z" fill="#3333ff" stroke-width="1.9"/>
<path d="M586.31 1209.17V1516.46M575.61 1209.17H597.01M575.61 1516.46H597.01" fill="none" stroke-width="2.2"/>
<path d="M576.51 1357.01h19.6L586.31 1373.98z" fill="#3333ff" stroke-width="1.9"/>
<path d="M601.36 1409.53V1432.82M590.66 1409.53H612.06M590.66 1432.82H612.06" fill="none" stroke-width="2.2"/>
<path d="M591.56 1415.37h19.6L601.36 1432.34z" fill="#3333ff" stroke-width="1.9"/>
<path d="M616.4 1417.55V1434.81M605.7 1417.55H627.11M605.7 1434.81H627.11" fill="none" stroke-width="2.2"/>
<path d="M606.61 1420.37h19.6L616.4 1437.34z" fill="#3333ff" stroke-width="1.9"/>
<path d="M631.45 1420.49V1440.36M620.75 1420.49H642.15M620.75 1440.36H642.15" fill="none" stroke-width="2.2"/>
<path d="M621.65 1424.62h19.6L631.45 1441.59z" fill="#3333ff" stroke-width="1.9"/>
<path d="M646.5 1417.55V1434.81M635.79 1417.55H657.2M635.79 1434.81H657.2" fill="none" stroke-width="2.2"/>
<path d="M636.7 1420.37h19.6L646.5 1437.34z" fill="#3333ff" stroke-width="1.9"/>
<path d="M661.54 1454.95V1454.95M650.84 1454.95H672.24M650.84 1454.95H672.24" fill="none" stroke-width="2.2"/>
<path d="M651.74 1449.14h19.6L661.54 1466.11z" fill="#3333ff" stroke-width="1.9"/>
<path d="M691.63 1454.95V1454.95M680.93 1454.95H702.33M680.93 1454.95H702.33" fill="none" stroke-width="2.2"/>
<path d="M681.83 1449.14h19.6L691.63 1466.11z" fill="#3333ff" stroke-width="1.9"/>
<path d="M706.68 1401.93V1437M695.98 1401.93H717.38M695.98 1437H717.38" fill="none" stroke-width="2.2"/>
<path d="M696.88 1413.66h19.6L706.68 1430.63z" fill="#3333ff" stroke-width="1.9"/>
<path d="M721.72 1454.95V1454.95M711.02 1454.95H732.42M711.02 1454.95H732.42" fill="none" stroke-width="2.2"/>
<path d="M711.92 1449.14h19.6L721.72 1466.11z" fill="#3333ff" stroke-width="1.9"/>
<path d="M736.76 1411.04V1443.92M726.06 1411.04H747.47M726.06 1443.92H747.47" fill="none" stroke-width="2.2"/>
<path d="M726.97 1421.67h19.6L736.76 1438.65z" fill="#3333ff" stroke-width="1.9"/>
<path d="M751.81 1454.95V1454.95M741.11 1454.95H762.51M741.11 1454.95H762.51" fill="none" stroke-width="2.2"/>
<path d="M742.01 1449.14h19.6L751.81 1466.11z" fill="#3333ff" stroke-width="1.9"/>
<path d="M766.86 1420.22V1440.08M756.15 1420.22H777.56M756.15 1440.08H777.56" fill="none" stroke-width="2.2"/>
<path d="M757.06 1424.34h19.6L766.86 1441.32z" fill="#3333ff" stroke-width="1.9"/>
<path d="M781.9 1292.6V1414.26M771.2 1292.6H792.6M771.2 1414.26H792.6" fill="none" stroke-width="2.2"/>
<path d="M772.1 1347.62h19.6L781.9 1364.6z" fill="#3333ff" stroke-width="1.9"/>
<path d="M811.99 1422.68V1440.49M801.29 1422.68H822.69M801.29 1440.49H822.69" fill="none" stroke-width="2.2"/>
<path d="M802.19 1425.78h19.6L811.99 1442.76z" fill="#3333ff" stroke-width="1.9"/>
<path d="M827.03 1408.3V1438.85M816.33 1408.3H837.74M816.33 1438.85H837.74" fill="none" stroke-width="2.2"/>
<path d="M817.24 1417.77h19.6L827.03 1434.74z" fill="#3333ff" stroke-width="1.9"/>
<path d="M842.08 1418.57V1440.49M831.38 1418.57H852.78M831.38 1440.49H852.78" fill="none" stroke-width="2.2"/>
<path d="M832.28 1423.73h19.6L842.08 1440.7z" fill="#3333ff" stroke-width="1.9"/>
<path d="M872.17 1406.93V1443.92M861.47 1406.93H882.87M861.47 1443.92H882.87" fill="none" stroke-width="2.2"/>
<path d="M862.37 1419.62h19.6L872.17 1436.59z" fill="#3333ff" stroke-width="1.9"/>
<path d="M887.22 1209.17V1516.46M876.51 1209.17H897.92M876.51 1516.46H897.92" fill="none" stroke-width="2.2"/>
<path d="M877.42 1357.01h19.6L887.22 1373.98z" fill="#3333ff" stroke-width="1.9"/>
<path d="M902.26 1454.95V1454.95M891.56 1454.95H912.96M891.56 1454.95H912.96" fill="none" stroke-width="2.2"/>
<path d="M892.46 1449.14h19.6L902.26 1466.11z" fill="#3333ff" stroke-width="1.9"/>
<path d="M917.31 1411.93V1432.48M906.61 1411.93H928.01M906.61 1432.48H928.01" fill="none" stroke-width="2.2"/>
<path d="M907.51 1416.4h19.6L917.31 1433.37z" fill="#3333ff" stroke-width="1.9"/>
<path d="M932.35 1454.95V1454.95M921.65 1454.95H943.05M921.65 1454.95H943.05" fill="none" stroke-width="2.2"/>
<path d="M922.55 1449.14h19.6L932.35 1466.11z" fill="#3333ff" stroke-width="1.9"/>
<path d="M947.39 1403.98V1439.6M936.69 1403.98H958.1M936.69 1439.6H958.1" fill="none" stroke-width="2.2"/>
<path d="M937.6 1415.99h19.6L947.39 1432.96z" fill="#3333ff" stroke-width="1.9"/>
<path d="M962.44 1454.95V1454.95M951.74 1454.95H973.14M951.74 1454.95H973.14" fill="none" stroke-width="2.2"/>
<path d="M952.64 1449.14h19.6L962.44 1466.11z" fill="#3333ff" stroke-width="1.9"/>
<path d="M977.49 1454.95V1454.95M966.78 1454.95H988.19M966.78 1454.95H988.19" fill="none" stroke-width="2.2"/>
<path d="M967.69 1449.14h19.6L977.49 1466.11z" fill="#3333ff" stroke-width="1.9"/>
<path d="M992.53 1398.02V1430.36M981.83 1398.02H1003.23M981.83 1430.36H1003.23" fill="none" stroke-width="2.2"/>
<path d="M982.73 1408.38h19.6L992.53 1425.36z" fill="#3333ff" stroke-width="1.9"/>
<path d="M1007.58 1454.95V1454.95M996.88 1454.95H1018.28M996.88 1454.95H1018.28" fill="none" stroke-width="2.2"/>
<path d="M997.78 1449.14h19.6L1007.58 1466.11z" fill="#3333ff" stroke-width="1.9"/>
<path d="M1022.62 1454.95V1454.95M1011.92 1454.95H1033.32M1011.92 1454.95H1033.32" fill="none" stroke-width="2.2"/>
<path d="M1012.82 1449.14h19.6L1022.62 1466.11z" fill="#3333ff" stroke-width="1.9"/>
<path d="M1037.66 1454.95V1454.95M1026.96 1454.95H1048.37M1026.96 1454.95H1048.37" fill="none" stroke-width="2.2"/>
<path d="M1027.87 1449.14h19.6L1037.66 1466.11z" fill="#3333ff" stroke-width="1.9"/>
<path d="M1052.71 1454.95V1454.95M1042.01 1454.95H1063.41M1042.01 1454.95H1063.41" fill="none" stroke-width="2.2"/>
<path d="M1042.91 1449.14h19.6L1052.71 1466.11z" fill="#3333ff" stroke-width="1.9"/>
<path d="M1082.8 1406.18V1432.48M1072.1 1406.18H1093.5M1072.1 1432.48H1093.5" fill="none" stroke-width="2.2"/>
<path d="M1073 1413.52h19.6L1082.8 1430.49z" fill="#3333ff" stroke-width="1.9"/>
<path d="M1112.89 1124.16V1631.06M1102.19 1124.16H1123.59M1102.19 1631.06H1123.59" fill="none" stroke-width="2.2"/>
<path d="M1103.09 1371.8h19.6L1112.89 1388.78z" fill="#3333ff" stroke-width="1.9"/>
<path d="M1127.93 1454.95V1454.95M1117.23 1454.95H1138.63M1117.23 1454.95H1138.63" fill="none" stroke-width="2.2"/>
<path d="M1118.13 1449.14h19.6L1127.93 1466.11z" fill="#3333ff" stroke-width="1.9"/>
<path d="M1142.98 517.18V1887.18M1132.28 517.18H1153.68M1132.28 1887.18H1153.68" fill="none" stroke-width="2.2"/>
<path d="M1133.18 1196.38h19.6L1142.98 1213.35z" fill="#3333ff" stroke-width="1.9"/>
</g>
<g clip-path="url(#cb)" stroke="#007200">
<path d="M210.19 1328.7V1423.23M199.49 1328.7H220.89M199.49 1423.23H220.89" fill="none" stroke-width="2.2"/>
<path d="M201.29 1367.07h17.8v17.8h-17.8z" fill="#00cc00" stroke-width="1.9"/>
<path d="M225.23 1303.29V1494.68M214.53 1303.29H235.93M214.53 1494.68H235.93" fill="none" stroke-width="2.2"/>
<path d="M216.33 1390.08h17.8v17.8h-17.8z" fill="#00cc00" stroke-width="1.9"/>
<path d="M240.28 1282.26V1535.71M229.58 1282.26H250.98M229.58 1535.71H250.98" fill="none" stroke-width="2.2"/>
<path d="M231.38 1400.08h17.8v17.8h-17.8z" fill="#00cc00" stroke-width="1.9"/>
<path d="M255.32 1410.01V1433.99M244.62 1410.01H266.02M244.62 1433.99H266.02" fill="none" stroke-width="2.2"/>
<path d="M246.42 1413.1h17.8v17.8h-17.8z" fill="#00cc00" stroke-width="1.9"/>
<path d="M285.41 1386.59V1435.36M274.71 1386.59H296.11M274.71 1435.36H296.11" fill="none" stroke-width="2.2"/>
<path d="M276.51 1402.07h17.8v17.8h-17.8z" fill="#00cc00" stroke-width="1.9"/>
<path d="M300.46 1454.95V1454.95M289.76 1454.95H311.16M289.76 1454.95H311.16" fill="none" stroke-width="2.2"/>
<path d="M291.56 1446.05h17.8v17.8h-17.8z" fill="#00cc00" stroke-width="1.9"/>
<path d="M315.5 1454.95V1454.95M304.81 1454.95H326.2M304.81 1454.95H326.2" fill="none" stroke-width="2.2"/>
<path d="M306.61 1446.05h17.8v17.8h-17.8z" fill="#00cc00" stroke-width="1.9"/>
<path d="M330.55 1128.75V1609.21M319.85 1128.75H341.25M319.85 1609.21H341.25" fill="none" stroke-width="2.2"/>
<path d="M321.65 1360.08h17.8v17.8h-17.8z" fill="#00cc00" stroke-width="1.9"/>
<path d="M345.6 1454.95V1454.95M334.9 1454.95H356.3M334.9 1454.95H356.3" fill="none" stroke-width="2.2"/>
<path d="M336.7 1446.05h17.8v17.8h-17.8z" fill="#00cc00" stroke-width="1.9"/>
<path d="M360.64 1454.95V1454.95M349.94 1454.95H371.34M349.94 1454.95H371.34" fill="none" stroke-width="2.2"/>
<path d="M351.74 1446.05h17.8v17.8h-17.8z" fill="#00cc00" stroke-width="1.9"/>
<path d="M375.69 1135.81V1584.21M364.99 1135.81H386.38M364.99 1584.21H386.38" fill="none" stroke-width="2.2"/>
<path d="M366.79 1351.11h17.8v17.8h-17.8z" fill="#00cc00" stroke-width="1.9"/>
<path d="M390.73 1454.95V1454.95M380.03 1454.95H401.43M380.03 1454.95H401.43" fill="none" stroke-width="2.2"/>
<path d="M381.83 1446.05h17.8v17.8h-17.8z" fill="#00cc00" stroke-width="1.9"/>
<path d="M405.77 1454.95V1454.95M395.07 1454.95H416.47M395.07 1454.95H416.47" fill="none" stroke-width="2.2"/>
<path d="M396.88 1446.05h17.8v17.8h-17.8z" fill="#00cc00" stroke-width="1.9"/>
<path d="M420.82 1269.66V1520.37M410.12 1269.66H431.52M410.12 1520.37H431.52" fill="none" stroke-width="2.2"/>
<path d="M411.92 1386.11h17.8v17.8h-17.8z" fill="#00cc00" stroke-width="1.9"/>
<path d="M435.87 1454.95V1454.95M425.17 1454.95H446.56M425.17 1454.95H446.56" fill="none" stroke-width="2.2"/>
<path d="M426.97 1446.05h17.8v17.8h-17.8z" fill="#00cc00" stroke-width="1.9"/>
<path d="M450.91 1305.48V1516.46M440.21 1305.48H461.61M440.21 1516.46H461.61" fill="none" stroke-width="2.2"/>
<path d="M442.01 1402.07h17.8v17.8h-17.8z" fill="#00cc00" stroke-width="1.9"/>
<path d="M465.96 932.57V1661.41M455.26 932.57H476.66M455.26 1661.41H476.66" fill="none" stroke-width="2.2"/>
<path d="M457.06 1288.09h17.8v17.8h-17.8z" fill="#00cc00" stroke-width="1.9"/>
<path d="M481 1179.24V1552.83M470.3 1179.24H491.7M470.3 1552.83H491.7" fill="none" stroke-width="2.2"/>
<path d="M472.1 1357.13h17.8v17.8h-17.8z" fill="#00cc00" stroke-width="1.9"/>
<path d="M496.04 1105.05V1532.22M485.34 1105.05H506.74M485.34 1532.22H506.74" fill="none" stroke-width="2.2"/>
<path d="M487.14 1309.73h17.8v17.8h-17.8z" fill="#00cc00" stroke-width="1.9"/>
<path d="M511.09 1454.95V1454.95M500.39 1454.95H521.79M500.39 1454.95H521.79" fill="none" stroke-width="2.2"/>
<path d="M502.19 1446.05h17.8v17.8h-17.8z" fill="#00cc00" stroke-width="1.9"/>
<path d="M526.13 1406.59V1440.56M515.43 1406.59H536.84M515.43 1440.56H536.84" fill="none" stroke-width="2.2"/>
<path d="M517.24 1414.67h17.8v17.8h-17.8z" fill="#00cc00" stroke-width="1.9"/>
<path d="M586.31 1134.92V1491.12M575.61 1134.92H597.01M575.61 1491.12H597.01" fill="none" stroke-width="2.2"/>
<path d="M577.41 1304.12h17.8v17.8h-17.8z" fill="#00cc00" stroke-width="1.9"/>
<path d="M601.36 1400.42V1427.14M590.66 1400.42H612.06M590.66 1427.14H612.06" fill="none" stroke-width="2.2"/>
<path d="M592.46 1404.88h17.8v17.8h-17.8z" fill="#00cc00" stroke-width="1.9"/>
<path d="M616.4 1410.01V1431.93M605.7 1410.01H627.11M605.7 1431.93H627.11" fill="none" stroke-width="2.2"/>
<path d="M607.5 1412.07h17.8v17.8h-17.8z" fill="#00cc00" stroke-width="1.9"/>
<path d="M631.45 1418.1V1442.48M620.75 1418.1H642.15M620.75 1442.48H642.15" fill="none" stroke-width="2.2"/>
<path d="M622.55 1421.39h17.8v17.8h-17.8z" fill="#00cc00" stroke-width="1.9"/>
<path d="M646.5 1410.01V1431.93M635.79 1410.01H657.2M635.79 1431.93H657.2" fill="none" stroke-width="2.2"/>
<path d="M637.6 1412.07h17.8v17.8h-17.8z" fill="#00cc00" stroke-width="1.9"/>
<path d="M661.54 1229.17V1574.82M650.84 1229.17H672.24M650.84 1574.82H672.24" fill="none" stroke-width="2.2"/>
<path d="M652.64 1393.1h17.8v17.8h-17.8z" fill="#00cc00" stroke-width="1.9"/>
<path d="M691.63 1454.95V1454.95M680.93 1454.95H702.33M680.93 1454.95H702.33" fill="none" stroke-width="2.2"/>
<path d="M682.73 1446.05h17.8v17.8h-17.8z" fill="#00cc00" stroke-width="1.9"/>
<path d="M706.68 1398.02V1433.23M695.98 1398.02H717.38M695.98 1433.23H717.38" fill="none" stroke-width="2.2"/>
<path d="M697.78 1406.73h17.8v17.8h-17.8z" fill="#00cc00" stroke-width="1.9"/>
<path d="M721.72 1454.95V1454.95M711.02 1454.95H732.42M711.02 1454.95H732.42" fill="none" stroke-width="2.2"/>
<path d="M712.82 1446.05h17.8v17.8h-17.8z" fill="#00cc00" stroke-width="1.9"/>
<path d="M736.76 1413.99V1446.04M726.06 1413.99H747.47M726.06 1446.04H747.47" fill="none" stroke-width="2.2"/>
<path d="M727.87 1421.11h17.8v17.8h-17.8z" fill="#00cc00" stroke-width="1.9"/>
<path d="M751.81 1454.95V1454.95M741.11 1454.95H762.51M741.11 1454.95H762.51" fill="none" stroke-width="2.2"/>
<path d="M742.91 1446.05h17.8v17.8h-17.8z" fill="#00cc00" stroke-width="1.9"/>
<path d="M766.86 1418.71V1436.93M756.15 1418.71H777.56M756.15 1436.93H777.56" fill="none" stroke-width="2.2"/>
<path d="M757.96 1418.92h17.8v17.8h-17.8z" fill="#00cc00" stroke-width="1.9"/>
<path d="M781.9 1403.44V1423.99M771.2 1403.44H792.6M771.2 1423.99H792.6" fill="none" stroke-width="2.2"/>
<path d="M773 1404.81h17.8v17.8h-17.8z" fill="#00cc00" stroke-width="1.9"/>
<path d="M796.95 1406.45V1423.58M786.25 1406.45H807.65M786.25 1423.58H807.65" fill="none" stroke-width="2.2"/>
<path d="M788.05 1406.11h17.8v17.8h-17.8z" fill="#00cc00" stroke-width="1.9"/>
<path d="M811.99 1411.25V1431.38M801.29 1411.25H822.69M801.29 1431.38H822.69" fill="none" stroke-width="2.2"/>
<path d="M803.09 1412.41h17.8v17.8h-17.8z" fill="#00cc00" stroke-width="1.9"/>
<path d="M827.03 1401.31V1436.66M816.33 1401.31H837.74M816.33 1436.66H837.74" fill="none" stroke-width="2.2"/>
<path d="M818.13 1410.09h17.8v17.8h-17.8z" fill="#00cc00" stroke-width="1.9"/>
<path d="M842.08 1415.49V1441.11M831.38 1415.49H852.78M831.38 1441.11H852.78" fill="none" stroke-width="2.2"/>
<path d="M833.18 1419.4h17.8v17.8h-17.8z" fill="#00cc00" stroke-width="1.9"/>
<path d="M872.17 1229.58V1577.56M861.47 1229.58H882.87M861.47 1577.56H882.87" fill="none" stroke-width="2.2"/>
<path d="M863.27 1394.67h17.8v17.8h-17.8z" fill="#00cc00" stroke-width="1.9"/>
<path d="M887.22 1134.92V1491.12M876.51 1134.92H897.92M876.51 1491.12H897.92" fill="none" stroke-width="2.2"/>
<path d="M878.32 1304.12h17.8v17.8h-17.8z" fill="#00cc00" stroke-width="1.9"/>
<path d="M902.26 1410.01V1436.04M891.56 1410.01H912.96M891.56 1436.04H912.96" fill="none" stroke-width="2.2"/>
<path d="M893.36 1414.13h17.8v17.8h-17.8z" fill="#00cc00" stroke-width="1.9"/>
<path d="M917.31 1403.3V1430.7M906.61 1403.3H928.01M906.61 1430.7H928.01" fill="none" stroke-width="2.2"/>
<path d="M908.41 1408.1h17.8v17.8h-17.8z" fill="#00cc00" stroke-width="1.9"/>
<path d="M932.35 1454.95V1454.95M921.65 1454.95H943.05M921.65 1454.95H943.05" fill="none" stroke-width="2.2"/>
<path d="M923.45 1446.05h17.8v17.8h-17.8z" fill="#00cc00" stroke-width="1.9"/>
<path d="M947.39 1079.98V1612.09M936.69 1079.98H958.1M936.69 1612.09H958.1" fill="none" stroke-width="2.2"/>
<path d="M938.5 1337.13h17.8v17.8h-17.8z" fill="#00cc00" stroke-width="1.9"/>
<path d="M962.44 1454.95V1454.95M951.74 1454.95H973.14M951.74 1454.95H973.14" fill="none" stroke-width="2.2"/>
<path d="M953.54 1446.05h17.8v17.8h-17.8z" fill="#00cc00" stroke-width="1.9"/>
<path d="M992.53 1163.75V1577.08M981.83 1163.75H1003.23M981.83 1577.08H1003.23" fill="none" stroke-width="2.2"/>
<path d="M983.63 1361.52h17.8v17.8h-17.8z" fill="#00cc00" stroke-width="1.9"/>
<path d="M1007.58 1454.95V1454.95M996.88 1454.95H1018.28M996.88 1454.95H1018.28" fill="none" stroke-width="2.2"/>
<path d="M998.68 1446.05h17.8v17.8h-17.8z" fill="#00cc00" stroke-width="1.9"/>
<path d="M1022.62 1454.95V1454.95M1011.92 1454.95H1033.32M1011.92 1454.95H1033.32" fill="none" stroke-width="2.2"/>
<path d="M1013.72 1446.05h17.8v17.8h-17.8z" fill="#00cc00" stroke-width="1.9"/>
<path d="M1037.66 1252.12V1545.85M1026.96 1252.12H1048.37M1026.96 1545.85H1048.37" fill="none" stroke-width="2.2"/>
<path d="M1028.76 1390.08h17.8v17.8h-17.8z" fill="#00cc00" stroke-width="1.9"/>
<path d="M1052.71 1454.95V1454.95M1042.01 1454.95H1063.41M1042.01 1454.95H1063.41" fill="none" stroke-width="2.2"/>
<path d="M1043.81 1446.05h17.8v17.8h-17.8z" fill="#00cc00" stroke-width="1.9"/>
<path d="M1082.8 1403.3V1430.7M1072.1 1403.3H1093.5M1072.1 1430.7H1093.5" fill="none" stroke-width="2.2"/>
<path d="M1073.9 1408.1h17.8v17.8h-17.8z" fill="#00cc00" stroke-width="1.9"/>
<path d="M1112.89 1077.38V1639.08M1102.19 1077.38H1123.59M1102.19 1639.08H1123.59" fill="none" stroke-width="2.2"/>
<path d="M1103.99 1349.33h17.8v17.8h-17.8z" fill="#00cc00" stroke-width="1.9"/>
<path d="M1127.93 1454.95V1454.95M1117.23 1454.95H1138.63M1117.23 1454.95H1138.63" fill="none" stroke-width="2.2"/>
<path d="M1119.03 1446.05h17.8v17.8h-17.8z" fill="#00cc00" stroke-width="1.9"/>
</g>
<text x="669.0" y="1719.7" text-anchor="middle" class="ti">Residue Number</text>
<g transform="translate(47.6,1449.2) rotate(-90)"><text class="ti" transform="scale(0.995,1)">Internal Motion,</text><text x="293.9" y="2.2" class="it sf" font-size="39.5">&#964;</text><text x="308" y="13.4" font-size="25">e</text><text x="330.5" class="ti">(ns)</text></g>
</svg>
</body></html>
